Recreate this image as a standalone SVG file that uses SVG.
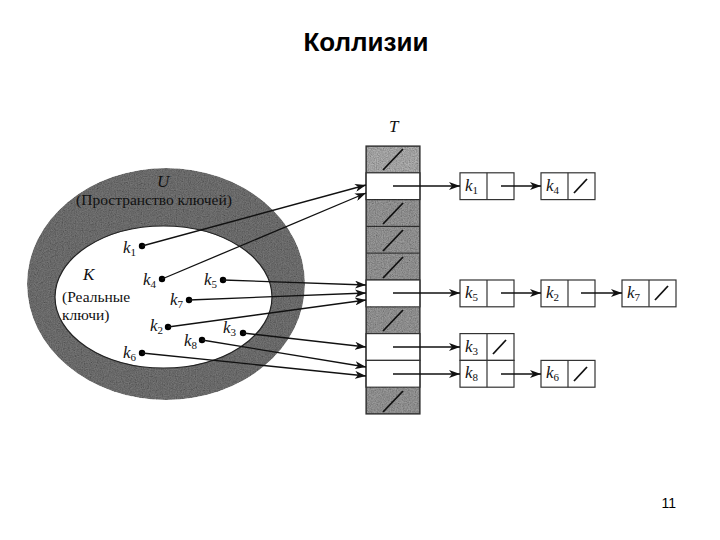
<svg xmlns="http://www.w3.org/2000/svg" width="720" height="540" viewBox="0 0 720 540">
<style>
.title{font-family:"Liberation Sans",Arial,sans-serif;font-weight:bold;font-size:26px;fill:#000}
.pg{font-family:"Liberation Sans",Arial,sans-serif;font-size:14px;fill:#000}
.lbl{font-family:"Liberation Serif","Times New Roman",serif;font-size:15.5px;fill:#111}
.k{font-family:"Liberation Serif","Times New Roman",serif;font-style:italic;font-size:17px;fill:#111}
.sub{font-family:"Liberation Serif","Times New Roman",serif;font-style:normal;font-size:11px}
.conn{stroke:#111;stroke-width:1.3;fill:none}
.cell{stroke:#333;stroke-width:1.2}
.node{fill:#fff;stroke:#333;stroke-width:1.2}
.slash{stroke:#111;stroke-width:1.8}
.dot{fill:#000}
</style>
<defs>
<marker id="ah" markerUnits="userSpaceOnUse" markerWidth="11" markerHeight="8" refX="11" refY="4" orient="auto">
<path d="M0,0 L11,4 L0,8 L3,4 z" fill="#111"/>
</marker>
<filter id="speckle" x="0" y="0" width="100%" height="100%">
<feTurbulence type="fractalNoise" baseFrequency="0.85" numOctaves="2" seed="3" result="n"/>
<feColorMatrix in="n" type="matrix" values="0.5 0.5 0.5 0 0.05  0.5 0.5 0.5 0 0.05  0.5 0.5 0.5 0 0.05  0 0 0 0 1" result="g"/>
<feBlend in="SourceGraphic" in2="g" mode="multiply" result="b"/>
<feComposite in="b" in2="SourceGraphic" operator="in"/>
</filter>
</defs>
<rect x="0" y="0" width="720" height="540" fill="#fff"/>
<text class="title" x="366" y="51" text-anchor="middle">Коллизии</text>
<text class="pg" x="676" y="508" text-anchor="end">11</text>

<g id="universe">
<ellipse cx="166" cy="284" rx="139" ry="116" fill="#747474" filter="url(#speckle)"/>
<text class="k" x="157" y="187">U</text>
<text class="lbl" x="154" y="205" text-anchor="middle">(Пространство ключей)</text>
</g>
<g id="actual-keys">
<ellipse cx="163.5" cy="297" rx="108.5" ry="71" fill="#fff" stroke="#222" stroke-width="1.2"/>
<text class="k" x="83" y="280">K</text>
<text class="lbl" x="62" y="302">(Реальные</text>
<text class="lbl" x="62" y="320">ключи)</text>
</g>

<g id="keys">
<g id="key-k1"><circle class="dot" cx="142" cy="246" r="3.2"/><text class="k" x="123" y="253">k<tspan class="sub" dy="3">1</tspan></text></g>
<g id="key-k4"><circle class="dot" cx="162" cy="279" r="3.2"/><text class="k" x="143" y="285">k<tspan class="sub" dy="3">4</tspan></text></g>
<g id="key-k5"><circle class="dot" cx="223" cy="280" r="3.2"/><text class="k" x="204" y="285">k<tspan class="sub" dy="3">5</tspan></text></g>
<g id="key-k7"><circle class="dot" cx="189" cy="300" r="3.2"/><text class="k" x="170" y="305">k<tspan class="sub" dy="3">7</tspan></text></g>
<g id="key-k2"><circle class="dot" cx="168" cy="327" r="3.2"/><text class="k" x="150" y="331">k<tspan class="sub" dy="3">2</tspan></text></g>
<g id="key-k3"><circle class="dot" cx="243" cy="333" r="3.2"/><text class="k" x="223" y="333">k<tspan class="sub" dy="3">3</tspan></text></g>
<g id="key-k8"><circle class="dot" cx="202" cy="340" r="3.2"/><text class="k" x="184" y="346">k<tspan class="sub" dy="3">8</tspan></text></g>
<g id="key-k6"><circle class="dot" cx="142" cy="353" r="3.2"/><text class="k" x="123" y="358">k<tspan class="sub" dy="3">6</tspan></text></g>
</g>

<g id="table-T">
<text class="k" x="389" y="132" font-size="14">T</text>
<rect class="cell" x="366" y="146" width="54" height="26.8" fill="#b0b0b0" filter="url(#speckle)"/>
<rect class="cell" x="366" y="172.8" width="54" height="26.8" fill="#fff"/>
<rect class="cell" x="366" y="199.6" width="54" height="26.8" fill="#9a9a9a" filter="url(#speckle)"/>
<rect class="cell" x="366" y="226.4" width="54" height="26.8" fill="#9a9a9a" filter="url(#speckle)"/>
<rect class="cell" x="366" y="253.2" width="54" height="26.8" fill="#9a9a9a" filter="url(#speckle)"/>
<rect class="cell" x="366" y="280" width="54" height="26.8" fill="#fff"/>
<rect class="cell" x="366" y="306.8" width="54" height="26.8" fill="#9a9a9a" filter="url(#speckle)"/>
<rect class="cell" x="366" y="333.6" width="54" height="26.8" fill="#fff"/>
<rect class="cell" x="366" y="360.4" width="54" height="26.8" fill="#fff"/>
<rect class="cell" x="366" y="387.2" width="54" height="26.8" fill="#9a9a9a" filter="url(#speckle)"/>
<rect x="366" y="146" width="54" height="268" fill="none" stroke="#333" stroke-width="1.2"/>
<line class="slash" x1="383" y1="170" x2="403" y2="149"/>
<line class="slash" x1="383" y1="224" x2="403" y2="203"/>
<line class="slash" x1="383" y1="251" x2="403" y2="230"/>
<line class="slash" x1="383" y1="278" x2="403" y2="257"/>
<line class="slash" x1="383" y1="331" x2="403" y2="310"/>
<line class="slash" x1="383" y1="412" x2="403" y2="391"/>
</g>

<g id="node-k1"><rect class="node" x="460" y="172.8" width="54" height="26.8"/><line class="cell" x1="487" y1="172.8" x2="487" y2="199.6"/><text class="k" x="465" y="191">k<tspan class="sub" dy="3">1</tspan></text></g>
<g id="node-k4"><rect class="node" x="541" y="172.8" width="54" height="26.8"/><line class="cell" x1="568" y1="172.8" x2="568" y2="199.6"/><text class="k" x="546" y="191">k<tspan class="sub" dy="3">4</tspan></text><line class="slash" x1="574" y1="193" x2="587" y2="179"/></g>
<g id="node-k5"><rect class="node" x="460" y="280" width="54" height="26.8"/><line class="cell" x1="487" y1="280" x2="487" y2="306.8"/><text class="k" x="465" y="298">k<tspan class="sub" dy="3">5</tspan></text></g>
<g id="node-k2"><rect class="node" x="541" y="280" width="54" height="26.8"/><line class="cell" x1="568" y1="280" x2="568" y2="306.8"/><text class="k" x="546" y="298">k<tspan class="sub" dy="3">2</tspan></text></g>
<g id="node-k7"><rect class="node" x="622" y="280" width="54" height="26.8"/><line class="cell" x1="649" y1="280" x2="649" y2="306.8"/><text class="k" x="627" y="298">k<tspan class="sub" dy="3">7</tspan></text><line class="slash" x1="655" y1="300" x2="668" y2="286"/></g>
<g id="node-k3"><rect class="node" x="460" y="333.6" width="54" height="26.8"/><line class="cell" x1="487" y1="333.6" x2="487" y2="360.4"/><text class="k" x="465" y="352">k<tspan class="sub" dy="3">3</tspan></text><line class="slash" x1="493" y1="354" x2="506" y2="340"/></g>
<g id="node-k8"><rect class="node" x="460" y="360.4" width="54" height="26.8"/><line class="cell" x1="487" y1="360.4" x2="487" y2="387.2"/><text class="k" x="465" y="378">k<tspan class="sub" dy="3">8</tspan></text></g>
<g id="node-k6"><rect class="node" x="541" y="360.4" width="54" height="26.8"/><line class="cell" x1="568" y1="360.4" x2="568" y2="387.2"/><text class="k" x="546" y="378">k<tspan class="sub" dy="3">6</tspan></text><line class="slash" x1="574" y1="381" x2="587" y2="367"/></g>

<g id="connectors">
<line class="conn" x1="142" y1="246" x2="366" y2="185" marker-end="url(#ah)"/>
<line class="conn" x1="162" y1="279" x2="366" y2="193" marker-end="url(#ah)"/>
<line class="conn" x1="223" y1="280" x2="366" y2="285" marker-end="url(#ah)"/>
<line class="conn" x1="189" y1="300" x2="366" y2="293" marker-end="url(#ah)"/>
<line class="conn" x1="168" y1="327" x2="366" y2="300" marker-end="url(#ah)"/>
<line class="conn" x1="243" y1="333" x2="366" y2="347" marker-end="url(#ah)"/>
<line class="conn" x1="202" y1="340" x2="366" y2="367" marker-end="url(#ah)"/>
<line class="conn" x1="142" y1="353" x2="366" y2="376" marker-end="url(#ah)"/>
<line class="conn" x1="393" y1="186" x2="460" y2="186" marker-end="url(#ah)"/>
<line class="conn" x1="393" y1="293" x2="460" y2="293" marker-end="url(#ah)"/>
<line class="conn" x1="393" y1="347" x2="460" y2="347" marker-end="url(#ah)"/>
<line class="conn" x1="393" y1="374" x2="460" y2="374" marker-end="url(#ah)"/>
<line class="conn" x1="501" y1="186" x2="541" y2="186" marker-end="url(#ah)"/>
<line class="conn" x1="501" y1="293" x2="541" y2="293" marker-end="url(#ah)"/>
<line class="conn" x1="581" y1="293" x2="622" y2="293" marker-end="url(#ah)"/>
<line class="conn" x1="501" y1="374" x2="541" y2="374" marker-end="url(#ah)"/>
</g>
</svg>
